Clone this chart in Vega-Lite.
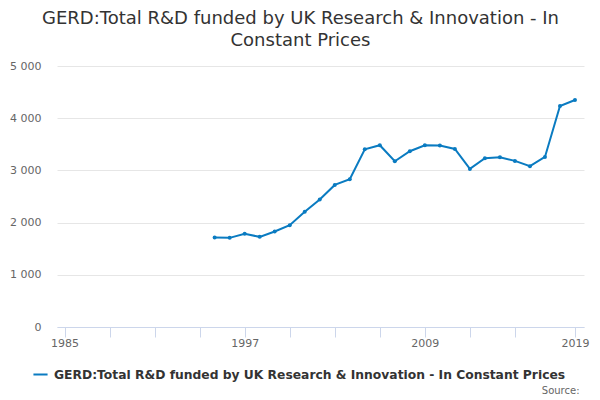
{
  "$schema": "https://vega.github.io/schema/vega-lite/v6.json",
  "width": 527,
  "height": 261,
  "autosize": {"type": "none"},
  "padding": {"left": 57, "top": 66, "right": 16, "bottom": 73},
  "title": {
    "text": ["GERD:Total R&D funded by UK Research & Innovation - In", "Constant Prices"],
    "anchor": "middle",
    "dx": -20,
    "offset": 10,
    "fontSize": 18,
    "fontWeight": "normal",
    "lineHeight": 22,
    "color": "#333333",
    "font": "DejaVu Sans"
  },
  "data": {
    "values": [
      {"Year": 1995, "Value": 1714, "Series": "GERD:Total R&D funded by UK Research & Innovation - In Constant Prices"},
      {"Year": 1996, "Value": 1708, "Series": "GERD:Total R&D funded by UK Research & Innovation - In Constant Prices"},
      {"Year": 1997, "Value": 1785, "Series": "GERD:Total R&D funded by UK Research & Innovation - In Constant Prices"},
      {"Year": 1998, "Value": 1727, "Series": "GERD:Total R&D funded by UK Research & Innovation - In Constant Prices"},
      {"Year": 1999, "Value": 1829, "Series": "GERD:Total R&D funded by UK Research & Innovation - In Constant Prices"},
      {"Year": 2000, "Value": 1951, "Series": "GERD:Total R&D funded by UK Research & Innovation - In Constant Prices"},
      {"Year": 2001, "Value": 2206, "Series": "GERD:Total R&D funded by UK Research & Innovation - In Constant Prices"},
      {"Year": 2002, "Value": 2441, "Series": "GERD:Total R&D funded by UK Research & Innovation - In Constant Prices"},
      {"Year": 2003, "Value": 2722, "Series": "GERD:Total R&D funded by UK Research & Innovation - In Constant Prices"},
      {"Year": 2004, "Value": 2831, "Series": "GERD:Total R&D funded by UK Research & Innovation - In Constant Prices"},
      {"Year": 2005, "Value": 3405, "Series": "GERD:Total R&D funded by UK Research & Innovation - In Constant Prices"},
      {"Year": 2006, "Value": 3482, "Series": "GERD:Total R&D funded by UK Research & Innovation - In Constant Prices"},
      {"Year": 2007, "Value": 3176, "Series": "GERD:Total R&D funded by UK Research & Innovation - In Constant Prices"},
      {"Year": 2008, "Value": 3367, "Series": "GERD:Total R&D funded by UK Research & Innovation - In Constant Prices"},
      {"Year": 2009, "Value": 3482, "Series": "GERD:Total R&D funded by UK Research & Innovation - In Constant Prices"},
      {"Year": 2010, "Value": 3475, "Series": "GERD:Total R&D funded by UK Research & Innovation - In Constant Prices"},
      {"Year": 2011, "Value": 3411, "Series": "GERD:Total R&D funded by UK Research & Innovation - In Constant Prices"},
      {"Year": 2012, "Value": 3029, "Series": "GERD:Total R&D funded by UK Research & Innovation - In Constant Prices"},
      {"Year": 2013, "Value": 3233, "Series": "GERD:Total R&D funded by UK Research & Innovation - In Constant Prices"},
      {"Year": 2014, "Value": 3252, "Series": "GERD:Total R&D funded by UK Research & Innovation - In Constant Prices"},
      {"Year": 2015, "Value": 3182, "Series": "GERD:Total R&D funded by UK Research & Innovation - In Constant Prices"},
      {"Year": 2016, "Value": 3080, "Series": "GERD:Total R&D funded by UK Research & Innovation - In Constant Prices"},
      {"Year": 2017, "Value": 3258, "Series": "GERD:Total R&D funded by UK Research & Innovation - In Constant Prices"},
      {"Year": 2018, "Value": 4234, "Series": "GERD:Total R&D funded by UK Research & Innovation - In Constant Prices"},
      {"Year": 2019, "Value": 4349, "Series": "GERD:Total R&D funded by UK Research & Innovation - In Constant Prices"}
    ]
  },
  "mark": {"type": "line", "strokeWidth": 2, "point": {"size": 16, "filled": true}},
  "encoding": {
    "x": {
      "field": "Year",
      "type": "quantitative",
      "scale": {"domain": [1984.5, 2019.6], "nice": false, "zero": false},
      "axis": {
        "values": [1985, 1988, 1991, 1994, 1997, 2000, 2003, 2006, 2009, 2012, 2015, 2019],
        "labelExpr": "(datum.value == 1985 || datum.value == 1997 || datum.value == 2009 || datum.value == 2019) ? format(datum.value, 'd') : ''",
        "grid": false,
        "domainColor": "#ccd6eb",
        "tickColor": "#ccd6eb",
        "tickSize": 10,
        "labelColor": "#666666",
        "labelFontSize": 11,
        "labelPadding": 0,
        "labelFlush": false,
        "labelOverlap": false,
        "title": "Source:",
        "titleAnchor": "end",
        "titleAlign": "right",
        "titleBaseline": "alphabetic",
        "titleX": 522,
        "titleY": 66,
        "titleFontSize": 10,
        "titleFontWeight": "normal",
        "titleColor": "#666666"
      }
    },
    "y": {
      "field": "Value",
      "type": "quantitative",
      "scale": {"domain": [0, 5000], "nice": false},
      "axis": {
        "values": [0, 1000, 2000, 3000, 4000, 5000],
        "labelExpr": "replace(format(datum.value, ','), ',', ' ')",
        "domain": false,
        "ticks": false,
        "gridColor": "#e6e6e6",
        "labelColor": "#666666",
        "labelFontSize": 11,
        "labelPadding": 16,
        "title": null
      }
    },
    "color": {
      "field": "Series",
      "type": "nominal",
      "scale": {"range": ["#0a7bc1"]},
      "legend": {
        "orient": "none",
        "legendX": -25,
        "legendY": 300,
        "title": null,
        "symbolType": "stroke",
        "symbolStrokeWidth": 2,
        "symbolSize": 200,
        "labelOffset": 5,
        "labelFontSize": 12.3,
        "labelFontWeight": "bold",
        "labelColor": "#333333",
        "labelLimit": 600
      }
    }
  },
  "config": {
    "font": "DejaVu Sans",
    "view": {"stroke": null}
  }
}
